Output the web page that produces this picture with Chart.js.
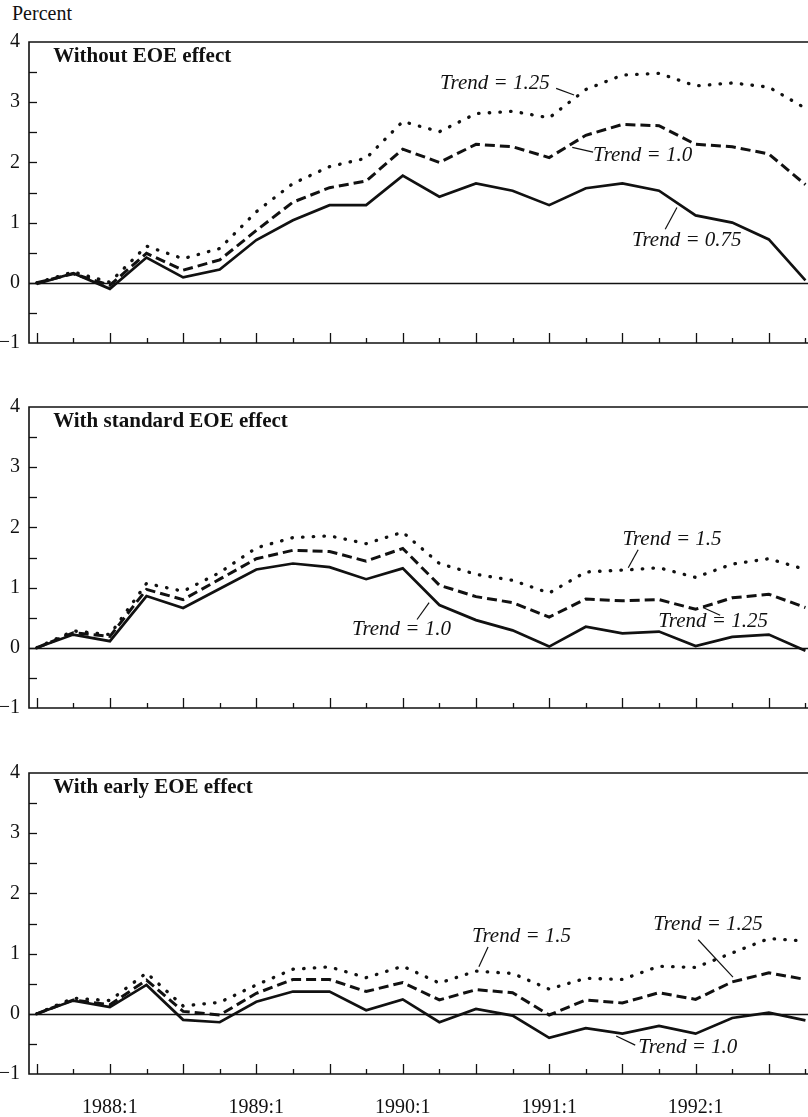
<!DOCTYPE html>
<html>
<head>
<meta charset="utf-8">
<script src="https://cdn.jsdelivr.net/npm/chart.js@4.4.1/dist/chart.umd.min.js"></script>
<style>
html, body { margin: 0; padding: 0; background: #fff; overflow: hidden; }
body { width: 808px; height: 1117px; position: relative; font-family: "Liberation Serif", serif; }
.panel { position: absolute; left: 0; }
#unit { position: absolute; left: 12px; top: 2px; font-size: 20px; color: #111; }
</style>
</head>
<body>
<div id="unit">Percent</div>
<canvas id="p1" class="panel" width="808" height="333" style="top:26px"></canvas>
<canvas id="p2" class="panel" width="808" height="333" style="top:391px"></canvas>
<canvas id="p3" class="panel" width="808" height="357" style="top:757px"></canvas>
<script>
const INK = "#111";
const SERIF = "'Liberation Serif', 'Times New Roman', serif";

// quarters 1987:3 .. 1992:4
const QUARTERS = [
    "1987:3", "1987:4",
    "1988:1", "1988:2", "1988:3", "1988:4",
    "1989:1", "1989:2", "1989:3", "1989:4",
    "1990:1", "1990:2", "1990:3", "1990:4",
    "1991:1", "1991:2", "1991:3", "1991:4",
    "1992:1", "1992:2", "1992:3", "1992:4"
];
const Y_MIN = -1;
const Y_MAX = 4;

/* -------------------- DATA (percent) -------------------- */
// Without EOE effect
const noEoeTrend075 = [-0.02, 0.16, -0.10, 0.42, 0.09, 0.22, 0.71, 1.04, 1.29, 1.29, 1.78, 1.43, 1.65, 1.53, 1.29, 1.57, 1.65, 1.53, 1.12, 1.00, 0.72, 0.04];
const noEoeTrend100 = [0.00, 0.15, -0.04, 0.49, 0.21, 0.38, 0.87, 1.34, 1.58, 1.69, 2.22, 2.00, 2.30, 2.26, 2.08, 2.45, 2.63, 2.61, 2.30, 2.26, 2.14, 1.63];
const noEoeTrend125 = [0.00, 0.18, 0.01, 0.61, 0.40, 0.57, 1.18, 1.65, 1.93, 2.07, 2.68, 2.51, 2.81, 2.85, 2.74, 3.21, 3.45, 3.48, 3.27, 3.32, 3.25, 2.90];

// With standard EOE effect
const stdEoeTrend100 = [0.00, 0.22, 0.11, 0.86, 0.66, 0.98, 1.30, 1.40, 1.34, 1.14, 1.32, 0.71, 0.46, 0.29, 0.02, 0.35, 0.24, 0.27, 0.03, 0.18, 0.22, -0.05];
const stdEoeTrend125 = [0.00, 0.25, 0.19, 0.97, 0.80, 1.14, 1.48, 1.62, 1.60, 1.44, 1.65, 1.04, 0.85, 0.75, 0.51, 0.81, 0.78, 0.80, 0.64, 0.83, 0.89, 0.67];
const stdEoeTrend150 = [0.00, 0.28, 0.22, 1.07, 0.94, 1.25, 1.66, 1.83, 1.86, 1.73, 1.92, 1.40, 1.22, 1.12, 0.91, 1.26, 1.29, 1.33, 1.17, 1.39, 1.48, 1.30];

// With early EOE effect
const earlyEoeTrend100 = [0.00, 0.22, 0.11, 0.48, -0.10, -0.14, 0.20, 0.37, 0.37, 0.06, 0.24, -0.14, 0.08, -0.03, -0.40, -0.24, -0.33, -0.20, -0.33, -0.07, 0.02, -0.11];
const earlyEoeTrend125 = [0.00, 0.23, 0.15, 0.56, 0.04, -0.02, 0.34, 0.57, 0.57, 0.37, 0.52, 0.23, 0.40, 0.35, -0.02, 0.23, 0.18, 0.35, 0.24, 0.53, 0.68, 0.57];
const earlyEoeTrend150 = [0.00, 0.26, 0.22, 0.68, 0.13, 0.19, 0.48, 0.74, 0.78, 0.60, 0.79, 0.51, 0.71, 0.67, 0.41, 0.59, 0.57, 0.79, 0.77, 1.01, 1.25, 1.21];

/* -------------------- LINE STYLES -------------------- */
// solid, dashed, dotted
const LINE_STYLES = [
    { width: 2.7, dash: [], cap: "butt" },
    { width: 3, dash: [10, 5], cap: "butt" },
    { width: 3.3, dash: [0.5, 10.2], cap: "round" }
];

/* -------------------- PLUGINS -------------------- */
function strokeLine(ctx, x1, y1, x2, y2) {
    ctx.beginPath();
    ctx.moveTo(x1, y1);
    ctx.lineTo(x2, y2);
    ctx.stroke();
}

// frame, zero line and inward tick marks
const framePlugin = {
    id: "frame",
    beforeDatasetsDraw(chart) {
        const { ctx, chartArea: a, scales: { x, y } } = chart;
        ctx.save();
        ctx.strokeStyle = INK;

        ctx.lineWidth = 1.3;
        const y0 = Math.round(y.getPixelForValue(0)) + 0.5;
        strokeLine(ctx, a.left, y0, a.right, y0);

        ctx.lineWidth = 1.6;
        ctx.beginPath();
        ctx.moveTo(a.right, a.top);
        ctx.lineTo(a.left, a.top);
        ctx.lineTo(a.left, a.bottom);
        ctx.lineTo(a.right, a.bottom);
        ctx.stroke();

        ctx.lineWidth = 1.3;
        for (let v = Y_MIN + 0.5; v < Y_MAX; v += 0.5) {
            const py = Math.round(y.getPixelForValue(v)) + 0.5;
            strokeLine(ctx, a.left, py, a.left + 8, py);
        }
        x.ticks.forEach(t => {
            const px = Math.round(x.getPixelForValue(t.value)) + 0.5;
            const len = t.value % 2 === 0 ? 10 : 5;
            strokeLine(ctx, px, a.bottom, px, a.bottom - len);
        });
        ctx.restore();
    }
};

// panel title and "Trend = ..." callouts, positioned in data units
const notesPlugin = {
    id: "notes",
    afterDatasetsDraw(chart, args, opts) {
        const { ctx, scales: { x, y } } = chart;
        ctx.save();
        ctx.fillStyle = INK;
        ctx.strokeStyle = INK;
        ctx.textBaseline = "middle";
        ctx.textAlign = "left";

        ctx.font = "bold 21px " + SERIF;
        ctx.fillText(opts.title, x.getPixelForValue(opts.titleAt[0]), y.getPixelForValue(opts.titleAt[1]));

        ctx.font = "italic 21px " + SERIF;
        ctx.lineWidth = 1.2;
        (opts.labels || []).forEach(n => {
            ctx.fillText(n.text, x.getPixelForValue(n.at[0]), y.getPixelForValue(n.at[1]));
            const [p, q] = n.leader;
            strokeLine(ctx, x.getPixelForValue(p[0]), y.getPixelForValue(p[1]),
                            x.getPixelForValue(q[0]), y.getPixelForValue(q[1]));
        });
        ctx.restore();
    }
};

/* -------------------- PANELS -------------------- */
// x scale runs in quarter index units; chart area spans 29px..808px
const X_MIN = -0.21;
const X_MAX = 21.07;

function makePanel(id, series, notes, showDates) {
    const tickFont = { family: SERIF, size: 20 };
    return new Chart(document.getElementById(id), {
        type: "line",
        data: {
            datasets: series.map((vals, k) => ({
                data: vals.map((v, i) => ({ x: i, y: v })),
                borderColor: INK,
                borderWidth: LINE_STYLES[k].width,
                borderDash: LINE_STYLES[k].dash,
                borderCapStyle: LINE_STYLES[k].cap,
                borderJoinStyle: "miter",
                pointRadius: 0,
                tension: 0,
                fill: false
            }))
        },
        options: {
            responsive: false,
            animation: false,
            devicePixelRatio: 1,
            layout: { padding: { top: 16, bottom: showDates ? 0 : 16, left: 0, right: 0 } },
            plugins: {
                legend: { display: false },
                tooltip: { enabled: false },
                notes: notes
            },
            scales: {
                x: {
                    type: "linear",
                    min: X_MIN,
                    max: X_MAX,
                    // tick marks are drawn by the frame plugin; tickLength only spaces the labels
                    grid: { display: false, drawTicks: true, tickLength: 22 },
                    border: { display: false },
                    afterBuildTicks: s => { s.ticks = QUARTERS.map((q, i) => ({ value: i })); },
                    ticks: {
                        display: showDates,
                        autoSkip: false,
                        maxRotation: 0,
                        padding: 0,
                        color: INK,
                        font: tickFont,
                        callback: v => (QUARTERS[v] && QUARTERS[v].endsWith(":1")) ? QUARTERS[v] : ""
                    },
                    afterFit: s => { s.height = showDates ? 40 : 0; }
                },
                y: {
                    min: Y_MIN,
                    max: Y_MAX,
                    grid: { display: false, drawTicks: true, tickLength: 9 },
                    border: { display: false },
                    ticks: {
                        stepSize: 1,
                        padding: 0,
                        color: INK,
                        font: tickFont,
                        callback: v => v < 0 ? "\u2212" + Math.abs(v) : String(v)
                    },
                    afterFit: s => { s.width = 29; }
                }
            }
        },
        plugins: [framePlugin, notesPlugin]
    });
}

makePanel("p1", [noEoeTrend075, noEoeTrend100, noEoeTrend125], {
    title: "Without EOE effect",
    titleAt: [0.45, 3.75],
    labels: [
        { text: "Trend = 1.25", at: [11.02, 3.31], leader: [[14.19, 3.23], [14.68, 3.12]] },
        { text: "Trend = 1.0", at: [15.2, 2.12], leader: [[14.63, 2.25], [15.2, 2.17]] },
        { text: "Trend = 0.75", at: [16.26, 0.71], leader: [[17.17, 0.89], [17.49, 1.25]] }
    ]
}, false);

makePanel("p2", [stdEoeTrend100, stdEoeTrend125, stdEoeTrend150], {
    title: "With standard EOE effect",
    titleAt: [0.45, 3.75],
    labels: [
        { text: "Trend = 1.5", at: [16.0, 1.80], leader: [[16.16, 1.33], [16.43, 1.63]] },
        { text: "Trend = 1.0", at: [8.61, 0.30], leader: [[10.39, 0.47], [10.72, 0.75]] },
        { text: "Trend = 1.25", at: [16.98, 0.44], leader: [[18.2, 0.67], [18.67, 0.54]] }
    ]
}, false);

makePanel("p3", [earlyEoeTrend100, earlyEoeTrend125, earlyEoeTrend150], {
    title: "With early EOE effect",
    titleAt: [0.45, 3.75],
    labels: [
        { text: "Trend = 1.5", at: [11.89, 1.28], leader: [[12.08, 0.78], [12.33, 1.11]] },
        { text: "Trend = 1.25", at: [16.84, 1.49], leader: [[18.07, 1.23], [19.02, 0.61]] },
        { text: "Trend = 1.0", at: [16.43, -0.56], leader: [[15.83, -0.37], [16.35, -0.52]] }
    ]
}, true);
</script>
</body>
</html>
